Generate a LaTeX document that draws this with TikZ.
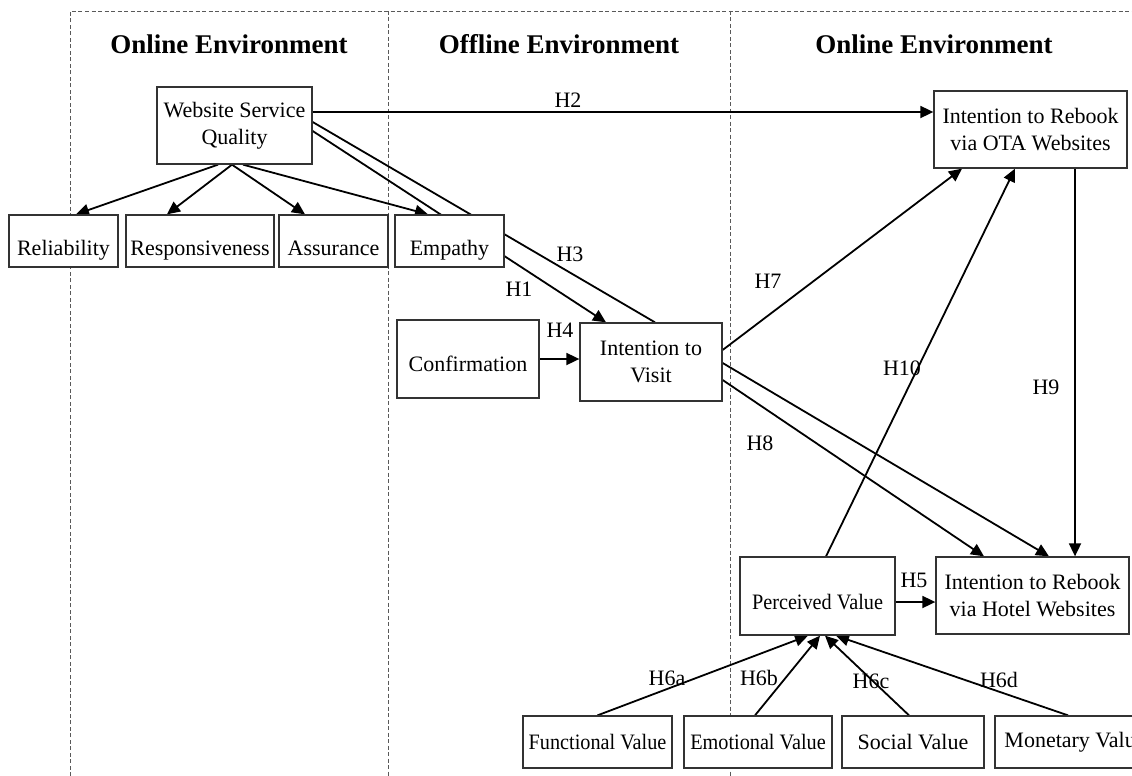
\documentclass[tikz,border=0pt]{standalone}
\usepackage{fontspec}
\setmainfont{Liberation Serif}
\usetikzlibrary{arrows.meta,calc}
\pgfdeclarelayer{background}
\pgfsetlayers{background,main}

% slightly condensed text for the wider labels
\newcommand{\cond}[1]{\scalebox{0.92}[1]{#1}}

\begin{document}
\begin{tikzpicture}[x=1pt,y=-1pt,
  box/.style={draw=black!80, line width=1.3pt, fill=white, inner sep=0pt,
    align=center, font=\fontsize{22}{27}\selectfont},
  % single-line labels whose baseline sits below the box centre
  lowtext/.style={text height=#1, text depth=0pt},
  envtitle/.style={font=\fontsize{27}{32}\selectfont\bfseries, inner sep=0pt},
  hlabel/.style={font=\fontsize{22}{27}\selectfont, inner sep=0pt},
  link/.style={line width=1.8pt},
  arr/.style={link, -{Triangle[length=13pt,width=12pt]}},
  zoneline/.style={draw=black!65, line width=0.9pt, dash pattern=on 4pt off 2.5pt}
]
\useasboundingbox (0,0) rectangle (1132,776);

% environment headings
\node[envtitle] (t1) at (229,44) {Online Environment};
\node[envtitle] (t2) at (559,44) {Offline Environment};
\node[envtitle] (t3) at (934,44) {Online Environment};

% constructs
\node[box, minimum width=155pt, minimum height=77pt] (wsq) at (234.5,125.5) {Website Service\\Quality};
\node[box, lowtext=28pt, minimum width=109pt, minimum height=52pt] (rel) at (63.5,241) {Reliability};
\node[box, lowtext=28pt, minimum width=148pt, minimum height=52pt] (resp) at (200,241) {Responsiveness};
\node[box, lowtext=28pt, minimum width=109pt, minimum height=52pt] (assur) at (333.5,241) {Assurance};
\node[box, lowtext=28pt, minimum width=109pt, minimum height=52pt] (emp) at (449.5,241) {Empathy};
\node[box, lowtext=25pt, minimum width=142pt, minimum height=78pt] (conf) at (468,359) {Confirmation};
\node[box, minimum width=142pt, minimum height=78pt] (visit) at (651,362) {Intention to\\Visit};
\node[box, minimum width=193pt, minimum height=77pt] (ota) at (1030.5,129.5) {Intention to Rebook\\via OTA Websites};
\node[box, lowtext=26pt, minimum width=155pt, minimum height=78pt] (pv) at (817.5,596) {\cond{Perceived Value}};
\node[box, minimum width=193pt, minimum height=77pt] (hotel) at (1032.5,595.5) {Intention to Rebook\\via Hotel Websites};
\node[box, minimum width=149pt, minimum height=52pt] (func) at (597.5,742) {\cond{Functional Value}};
\node[box, minimum width=148pt, minimum height=52pt] (emo) at (758,742) {\cond{Emotional Value}};
\node[box, minimum width=142pt, minimum height=52pt] (soc) at (913,742) {Social Value};
\node[box, minimum width=160pt, minimum height=52pt] (mon) at (1075,742) {Monetary Value};

% hypothesis labels
\node[hlabel] (lh2) at (568,100) {H2};
\node[hlabel] (lh3) at (570,254) {H3};
\node[hlabel] (lh1) at (519,289) {H1};
\node[hlabel] (lh4) at (560,330) {H4};
\node[hlabel] (lh7) at (768,281) {H7};
\node[hlabel] (lh10) at (902,368) {H10};
\node[hlabel] (lh9) at (1046,387) {H9};
\node[hlabel] (lh8) at (760,443) {H8};
\node[hlabel] (lh5) at (914,580) {H5};
\node[hlabel] (lh6a) at (667,678) {H6a};
\node[hlabel] (lh6b) at (759,678) {H6b};
\node[hlabel] (lh6c) at (871,681) {H6c};
\node[hlabel] (lh6d) at (999,680) {H6d};

\begin{pgfonlayer}{background}
  % dashed zone borders
  \coordinate (ztl) at (70,11);
  \coordinate (ztr) at (1140,11);
  \draw[zoneline] (70,776) -- (ztl) -- (ztr);
  \draw[zoneline] (388,11) -- (388,776);
  \draw[zoneline] (730,11) -- (730,776);

  % dimensions of website service quality
  \draw[arr] ([xshift=-16.5pt]wsq.south) -- ([xshift=12.5pt]rel.north);
  \draw[arr] ([xshift=-2.5pt]wsq.south) -- ([xshift=-33pt]resp.north);
  \draw[arr] ([xshift=-2.5pt]wsq.south) -- ([xshift=-28.5pt]assur.north);
  \draw[arr] ([xshift=8.5pt]wsq.south) -- ([xshift=-21.5pt]emp.north);

  % hypotheses
  \draw[arr] ([yshift=13.5pt]wsq.east) -- ([yshift=17.5pt]ota.west);          % H2
  \draw[link] ([yshift=3.5pt]wsq.east) -- ([xshift=4pt]visit.north);         % H3
  \draw[arr] ([yshift=-5.5pt]wsq.east) -- ([xshift=-45pt]visit.north);       % H1
  \draw[arr] (conf.east) -- (conf.east -| visit.west);                       % H4
  \draw[arr] ([yshift=12pt]visit.east) -- ([xshift=-68.5pt]ota.south);       % H7
  \draw[arr] ([xshift=8.5pt]pv.north) -- ([xshift=-15.5pt]ota.south);        % H10
  \draw[arr] ([xshift=44.5pt]ota.south) -- ([xshift=44.5pt]ota.south |- hotel.north); % H9
  \draw[arr] ([yshift=-1pt]visit.east) -- ([xshift=16.5pt]hotel.north);      % H8
  \draw[arr] ([yshift=-18pt]visit.east) -- ([xshift=-48.5pt]hotel.north);    % H8
  \draw[arr] ([yshift=-6pt]pv.east) -- ([yshift=-6pt]pv.east -| hotel.west); % H5
  \draw[arr] (func.north) -- ([xshift=-9.5pt]pv.south);                      % H6a
  \draw[arr] ([xshift=-3pt]emo.north) -- ([xshift=2.5pt]pv.south);          % H6b
  \draw[arr] ([xshift=-4pt]soc.north) -- ([xshift=7.5pt]pv.south);          % H6c
  \draw[arr] ([xshift=-7pt]mon.north) -- ([xshift=18.5pt]pv.south);         % H6d
\end{pgfonlayer}
\end{tikzpicture}
\end{document}
